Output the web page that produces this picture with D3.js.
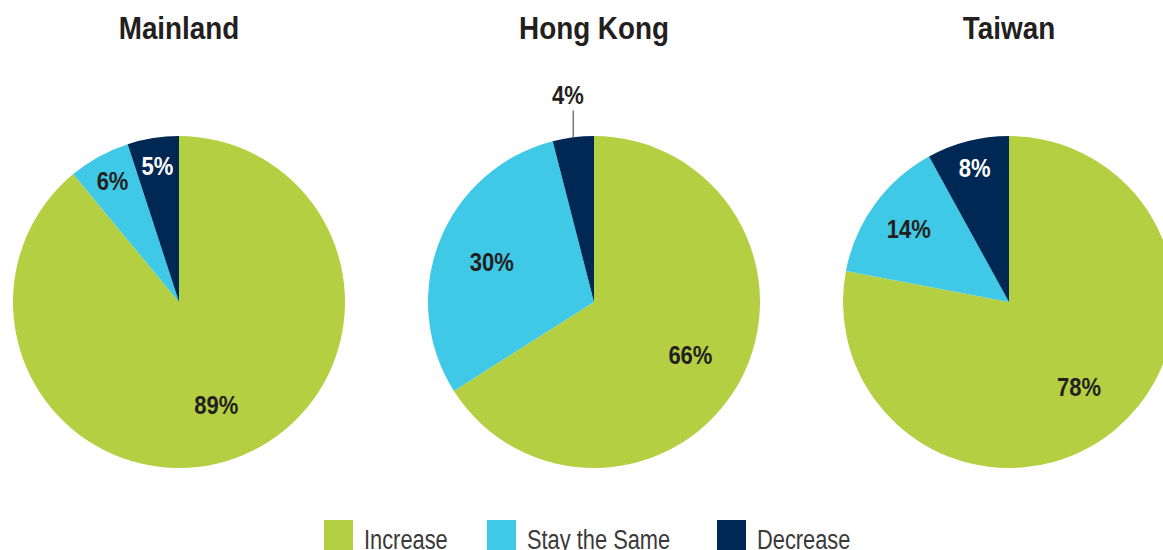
<!DOCTYPE html>
<html>
<head>
<meta charset="utf-8">
<script src="https://cdn.jsdelivr.net/npm/d3@7"></script>
<style>
  body { margin: 0; background: #fff; }
  svg text { font-family: "Liberation Sans", Arial, sans-serif; }
</style>
</head>
<body>
<div id="chart"></div>
<script>
const regions = ["Mainland", "Hong Kong", "Taiwan"];
const categories = ["Increase", "Stay the Same", "Decrease"];
const mainland = [89, 6, 5];
const hongKong = [66, 30, 4];
const taiwan = [78, 14, 8];
const seriesByRegion = [mainland, hongKong, taiwan];

const width = 1163, height = 550;
const radius = 166;

const svg = d3.select("#chart")
  .append("svg")
  .attr("width", width)
  .attr("height", height);

const color = d3.scaleOrdinal()
  .domain(categories)
  .range(["#b5cf43", "#3fc9e6", "#002855"]);

// centres of the three pies
const x = d3.scalePoint()
  .domain(regions)
  .range([179, 1009]);
const cy = 302;

const pie = d3.pie().sort(null).value(d => d.value);
const arc = d3.arc().innerRadius(0).outerRadius(radius);

// condensed look: squeeze Liberation Sans horizontally
function condText(parent, tx, ty, sx) {
  return parent.append("text")
    .attr("transform", `translate(${tx},${ty}) scale(${sx},1)`);
}

regions.forEach((region, i) => {
  const rows = categories.map((c, j) => ({ key: c, value: seriesByRegion[i][j] }));
  const g = svg.append("g")
    .attr("transform", `translate(${x(region)},${cy})`);

  condText(g, 0, 39 - cy, 0.87)
    .attr("text-anchor", "middle")
    .attr("font-size", 32)
    .attr("font-weight", "bold")
    .attr("fill", "#231f20")
    .text(region);

  const arcs = pie(rows);

  g.selectAll("path")
    .data(arcs)
    .enter()
    .append("path")
    .attr("d", arc)
    .attr("fill", d => color(d.data.key));

  arcs.forEach(d => {
    const v = d.data.value;
    const outside = v < 5;
    const r = outside ? 209 : (v >= 20 ? 110 : (v >= 10 ? 124 : 138));
    const a = (d.startAngle + d.endAngle) / 2;
    const lx = Math.sin(a) * r, ly = -Math.cos(a) * r;

    if (outside) {
      g.append("line")
        .attr("x1", Math.sin(a) * radius)
        .attr("y1", -Math.cos(a) * radius)
        .attr("x2", Math.sin(a) * radius)
        .attr("y2", -Math.cos(a) * 193)
        .attr("stroke", "#555")
        .attr("stroke-width", 1.2);
    }

    condText(g, lx, ly + 9, 0.88)
      .attr("text-anchor", "middle")
      .attr("font-size", 25)
      .attr("font-weight", "bold")
      .attr("fill", !outside && d.data.key === "Decrease" ? "#fff" : "#231f20")
      .text(v + "%");
  });
});

// Legend
const legendX = [324, 487, 717];
const legend = svg.append("g");
categories.forEach((c, i) => {
  legend.append("rect")
    .attr("x", legendX[i])
    .attr("y", 520)
    .attr("width", 29)
    .attr("height", 30)
    .attr("fill", color(c));
  condText(legend, legendX[i] + 40, 549, 0.78)
    .attr("font-size", 28)
    .attr("fill", "#3a3a3a")
    .text(c);
});
</script>
</body>
</html>
